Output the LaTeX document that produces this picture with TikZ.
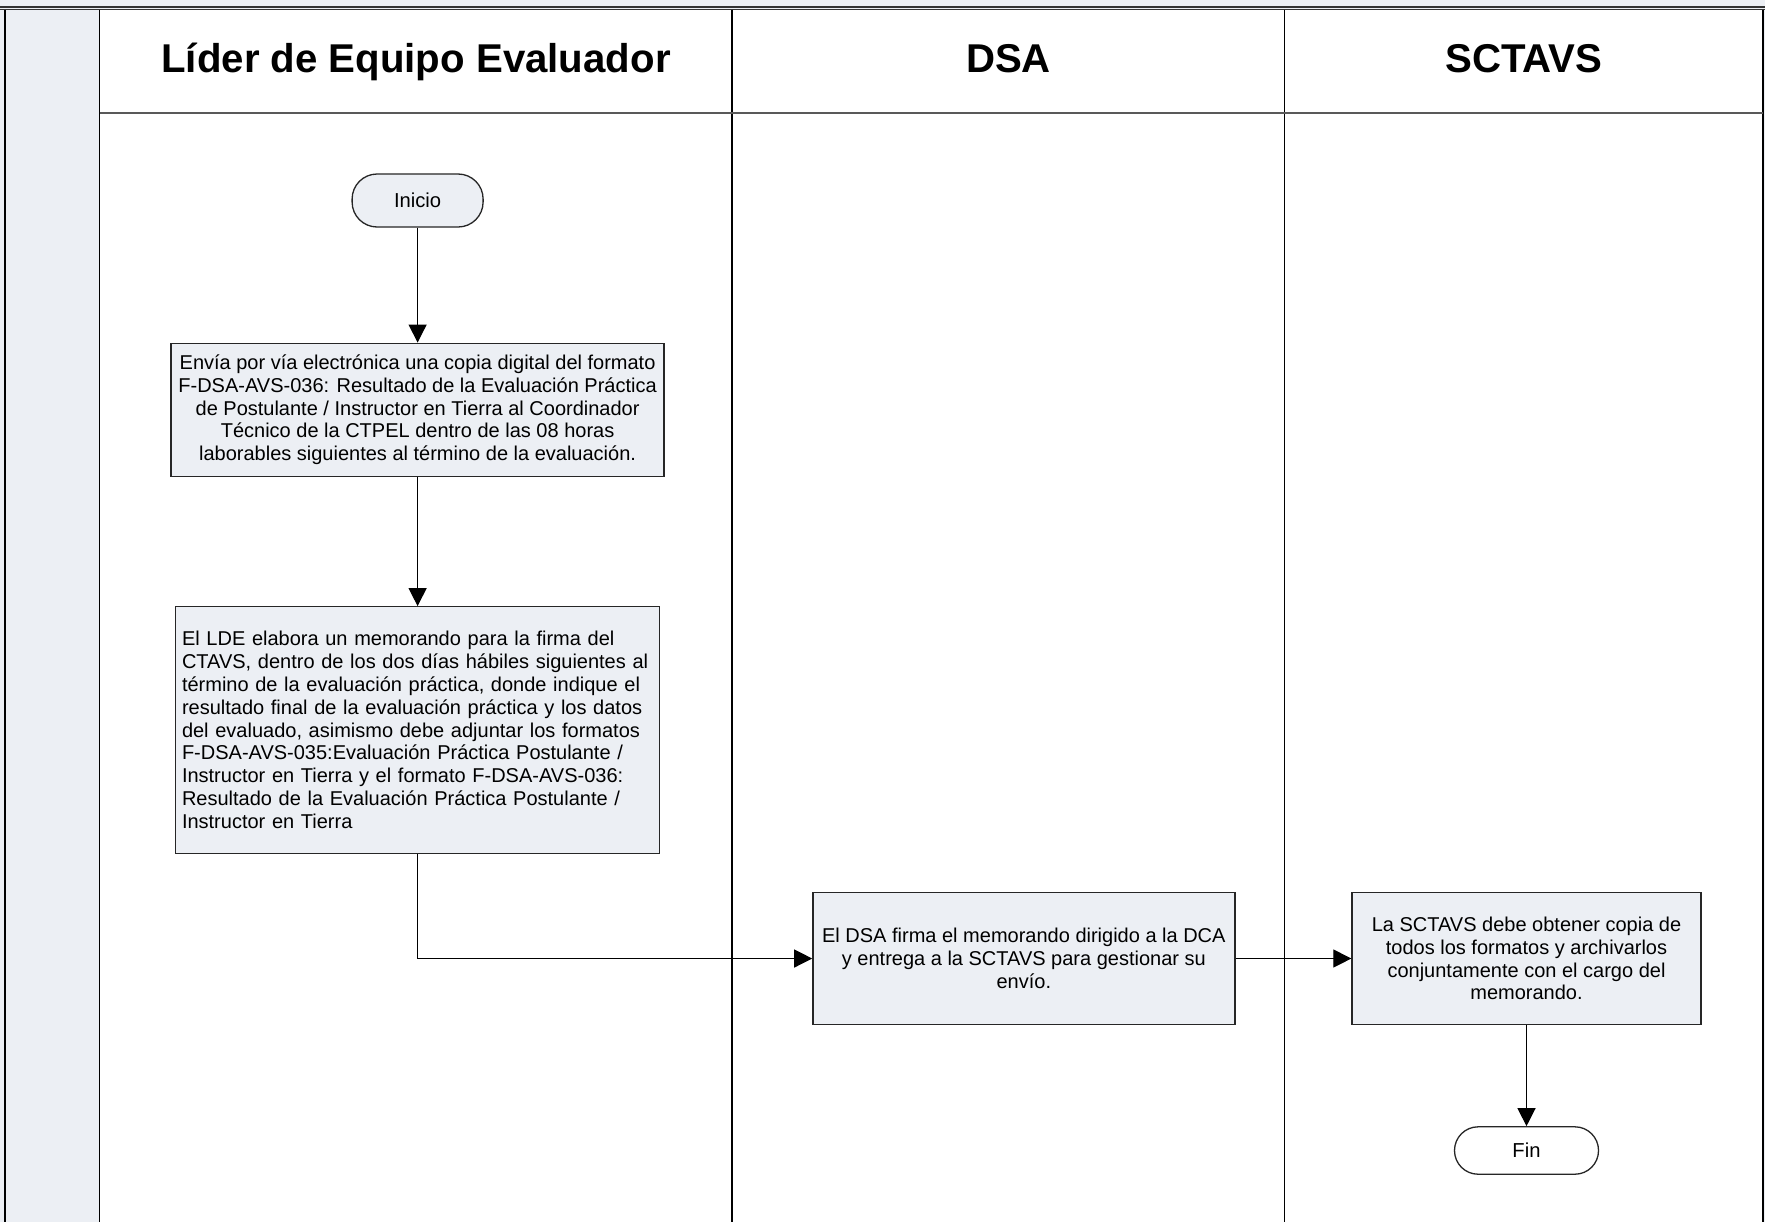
\documentclass[tikz,border=0pt]{standalone}
\usepackage{fontspec}
\setmainfont{Liberation Sans}
\usetikzlibrary{arrows.meta}
\definecolor{boxfill}{RGB}{236,239,244}
\newcommand{\mybodyfont}{\fontsize{10}{11.4}\selectfont}
\newcommand{\mytermfont}{\fontsize{10.1}{12}\selectfont}
\newcommand{\mytitlefont}{\fontsize{20.1}{22}\selectfont\bfseries}
\begin{document}
\begin{tikzpicture}[x=0.5pt,y=-0.5pt,
  proc/.style={draw=black!85, fill=boxfill, line width=0.65pt, inner sep=0pt, font=\mybodyfont, align=center},
  term/.style={draw=black!85, line width=0.65pt, rounded corners=12.5pt, inner sep=0pt, font=\mytermfont},
  flow/.style={draw=black, line width=0.6pt, -{Triangle[length=9pt,width=9pt]}},
  laneline/.style={draw=black, line width=0.8pt},
  lanetitle/.style={font=\mytitlefont, inner sep=0pt, anchor=base}]
\useasboundingbox (0,0) rectangle (1765,1222);
% backgrounds
\fill[boxfill] (0,0) rectangle (1765,1222);
\fill[white] (99.5,9.5) rectangle (1763,1222);
% frame lines
\draw[line width=0.6pt, black!80] (0,7) -- (1765,7);
\draw[line width=0.6pt, black!80] (0,9.5) -- (1765,9.5);
\draw[laneline] (5,9.5) -- (5,1222);
\draw[laneline] (99.5,9.5) -- (99.5,1222);
\draw[laneline] (732,9.5) -- (732,1222);
\draw[laneline] (1284.5,9.5) -- (1284.5,1222);
\draw[laneline] (1763,9.5) -- (1763,1222);
\draw[line width=1pt, black!65] (99.5,113) -- (1763,113);
% titles
\node[lanetitle] (t1) at (416,72.7) {Líder de Equipo Evaluador};
\node[lanetitle] (t2) at (1008.5,72.7) {DSA};
\node[lanetitle] (t3) at (1524,72.7) {SCTAVS};
% nodes
\node[term, fill=boxfill, minimum width=65.5pt, minimum height=26.5pt] (ini) at (417.6,200.5) {Inicio};
\node[proc, minimum width=246.5pt, minimum height=66.5pt] (b1) at (417.6,409.7)
  {Envía por vía electrónica una copia digital del formato\\
   F-DSA-AVS-036: Resultado de la Evaluación Práctica\\
   de Postulante / Instructor en Tierra al Coordinador\\
   Técnico de la CTPEL dentro de las 08 horas\\
   laborables siguientes al término de la evaluación.};
\node[proc, align=left, inner xsep=3.2pt, text width=235.6pt, minimum height=123.25pt] (b2) at (417.6,730)
  {El LDE elabora un memorando para la firma del\\
   CTAVS, dentro de los dos días hábiles siguientes al\\
   término de la evaluación práctica, donde indique el\\
   resultado final de la evaluación práctica y los datos\\
   del evaluado, asimismo debe adjuntar los formatos\\
   F-DSA-AVS-035:Evaluación Práctica Postulante /\\
   Instructor en Tierra y el formato F-DSA-AVS-036:\\
   Resultado de la Evaluación Práctica Postulante /\\
   Instructor en Tierra};
\node[proc, minimum width=211pt, minimum height=65.85pt] (b3) at (1023.85,958.5)
  {El DSA firma el memorando dirigido a la DCA\\
   y entrega a la SCTAVS para gestionar su\\
   envío.};
\node[proc, minimum width=174.5pt, minimum height=65.85pt] (b4) at (1526.5,958.5)
  {La SCTAVS debe obtener copia de\\
   todos los formatos y archivarlos\\
   conjuntamente con el cargo del\\
   memorando.};
\node[term, fill=white, minimum width=72pt, minimum height=23.7pt, rounded corners=11.8pt] (fin) at (1526.5,1150.5) {Fin};
% connectors
\draw[flow] (ini) -- (b1);
\draw[flow] (b1) -- (b2);
\draw[flow] (b2.south) |- (b3.west);
\draw[flow] (b3) -- (b4);
\draw[flow] (b4) -- (fin);
\end{tikzpicture}
\end{document}
